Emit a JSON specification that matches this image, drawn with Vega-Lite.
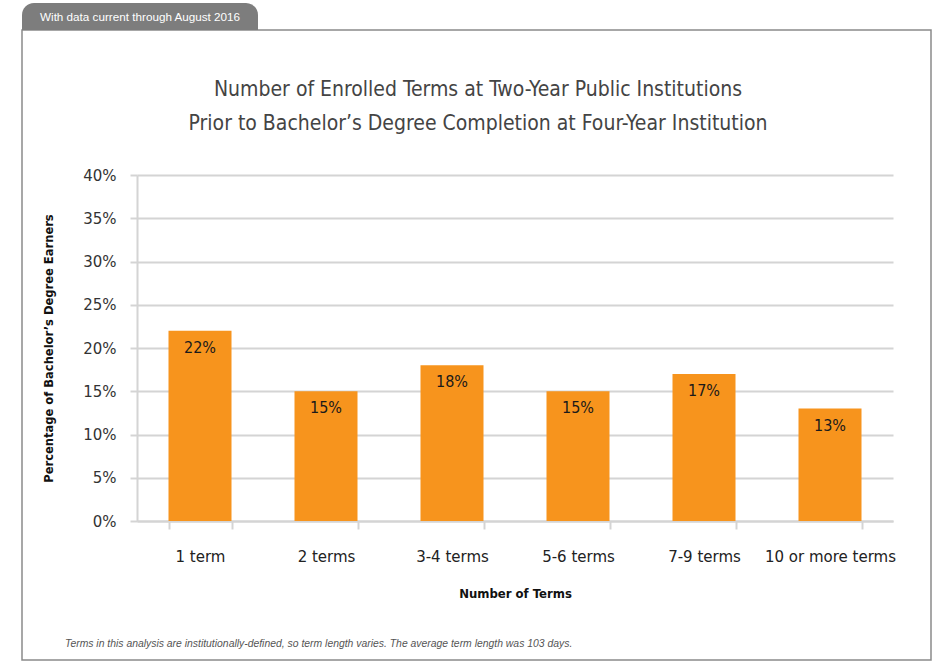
{
  "$schema": "https://vega.github.io/schema/vega-lite/v6.json",
  "width": 756,
  "height": 346,
  "autosize": {"type": "none"},
  "padding": {"left": 137, "top": 175, "right": 56, "bottom": 151},
  "background": "white",
  "title": {
    "text": ["Number of Enrolled Terms at Two-Year Public Institutions", "Prior to Bachelor’s Degree Completion at Four-Year Institution"],
    "font": "DejaVu Sans Condensed, sans-serif",
    "fontSize": 21,
    "fontWeight": "normal",
    "color": "#444444",
    "lineHeight": 34,
    "anchor": "middle",
    "frame": "group",
    "offset": -131,
    "dx": -37
  },
  "datasets": {
    "terms": [
      {"term": "1 term", "pct": 0.22},
      {"term": "2 terms", "pct": 0.15},
      {"term": "3-4 terms", "pct": 0.18},
      {"term": "5-6 terms", "pct": 0.15},
      {"term": "7-9 terms", "pct": 0.17},
      {"term": "10 or more terms", "pct": 0.13}
    ],
    "tab": [{"label": "With data current through August 2016"}],
    "note": [{"label": "Terms in this analysis are institutionally-defined, so term length varies. The average term length was 103 days."}]
  },
  "layer": [
    {
      "data": {"name": "tab"},
      "mark": {"type": "rect", "fillOpacity": 0, "stroke": "#8a8a8a", "strokeWidth": 1.5},
      "encoding": {
        "x": {"value": -115}, "x2": {"value": 794},
        "y": {"value": -145}, "y2": {"value": 485}
      }
    },
    {
      "data": {"name": "tab"},
      "mark": {"type": "rect", "fill": "#7d7d7d", "cornerRadiusTopLeft": 12, "cornerRadiusTopRight": 12},
      "encoding": {
        "x": {"value": -115}, "x2": {"value": 121},
        "y": {"value": -172}, "y2": {"value": -145}
      }
    },
    {
      "data": {"name": "tab"},
      "mark": {"type": "text", "color": "white", "font": "Liberation Sans", "fontSize": 11.7, "align": "left", "baseline": "middle"},
      "encoding": {
        "text": {"field": "label"},
        "x": {"value": -97}, "y": {"value": -158}
      }
    },
    {
      "data": {"name": "note"},
      "mark": {"type": "text", "color": "#555555", "font": "Liberation Sans", "fontStyle": "italic", "fontSize": 10.4, "align": "left", "baseline": "middle"},
      "encoding": {
        "text": {"field": "label"},
        "x": {"value": -72}, "y": {"value": 469}
      }
    },
    {
      "data": {"name": "terms"},
      "mark": {"type": "bar", "color": "#F7941D"},
      "encoding": {
        "x": {
          "field": "term", "type": "nominal", "sort": null,
          "scale": {"paddingInner": 0.5, "paddingOuter": 0.25},
          "axis": {
            "title": "Number of Terms",
            "labelAngle": 0,
            "labelFont": "DejaVu Sans",
            "labelFontSize": 15,
            "labelColor": "#222222",
            "labelPadding": 20,
            "labelLimit": 200,
            "domainColor": "#d4d4d4",
            "domainWidth": 2,
            "tickColor": "#d4d4d4",
            "tickWidth": 2,
            "tickSize": 8,
            "tickBand": "extent",
            "titleFont": "DejaVu Sans Condensed, sans-serif",
            "titleFontWeight": "bold",
            "titleFontSize": 13,
            "titleColor": "#111111",
            "titlePadding": 23
          }
        },
        "y": {
          "field": "pct", "type": "quantitative",
          "scale": {"domain": [0, 0.4]},
          "axis": {
            "title": "Percentage of Bachelor’s Degree Earners",
            "values": [0, 0.05, 0.1, 0.15, 0.2, 0.25, 0.3, 0.35, 0.4],
            "format": ".0%",
            "labelFont": "DejaVu Sans",
            "labelFontSize": 15,
            "labelColor": "#333333",
            "labelPadding": 14,
            "grid": true,
            "gridColor": "#d4d4d4",
            "gridWidth": 2,
            "domainColor": "#d4d4d4",
            "domainWidth": 2,
            "tickColor": "#d4d4d4",
            "tickWidth": 2,
            "tickSize": 7,
            "titleFont": "DejaVu Sans Condensed, sans-serif",
            "titleFontWeight": "bold",
            "titleFontSize": 12.8,
            "titleColor": "#111111",
            "titlePadding": 27
          }
        }
      }
    },
    {
      "data": {"name": "terms"},
      "mark": {"type": "text", "baseline": "top", "dy": 9, "font": "DejaVu Sans Condensed, sans-serif", "fontSize": 16, "color": "#1a1a1a"},
      "encoding": {
        "x": {"field": "term", "type": "nominal", "sort": null},
        "y": {"field": "pct", "type": "quantitative"},
        "text": {"field": "pct", "type": "quantitative", "format": ".0%"}
      }
    }
  ],
  "config": {"view": {"stroke": null}}
}
